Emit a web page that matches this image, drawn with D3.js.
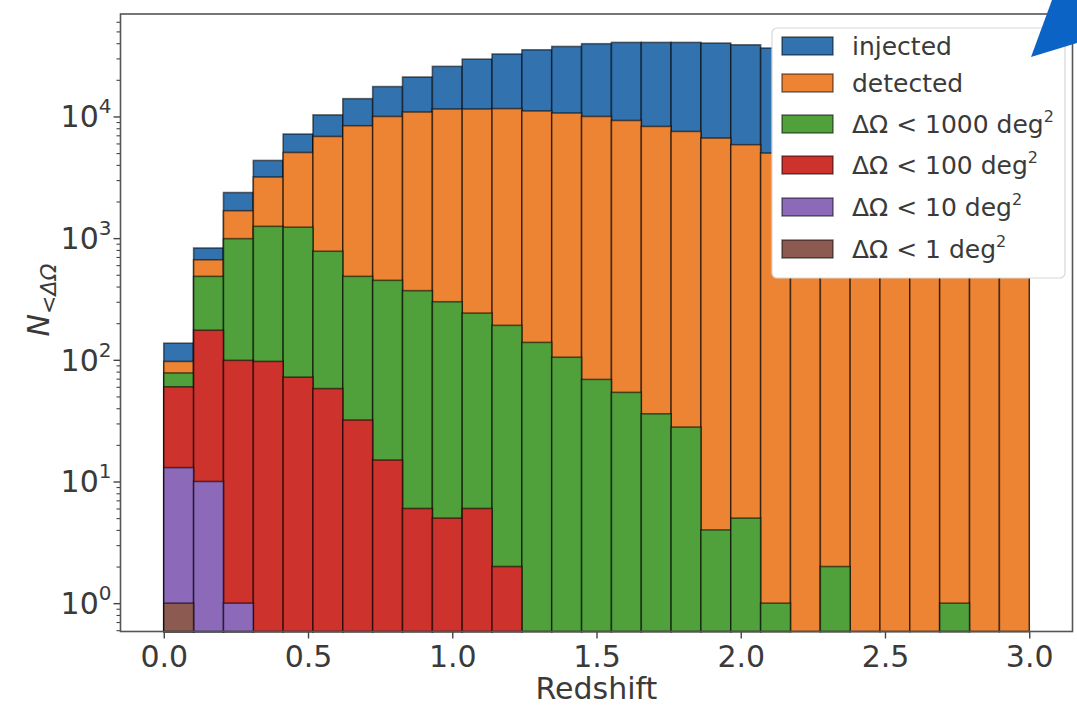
<!DOCTYPE html>
<html>
<head>
<meta charset="utf-8">
<script src="https://cdn.jsdelivr.net/npm/d3@7"></script>
<style>
  html, body { margin: 0; padding: 0; background: #fff; }
  svg { display: block; font-family: "DejaVu Sans", sans-serif; }
</style>
</head>
<body>
<svg id="chart" width="1077" height="709"></svg>
<script>
// ---------- data ----------
const binStart = 0.0;
const binEnd = 3.0;
const binCount = 29;

const injected = [137, 830, 2370, 4350, 7170, 10300, 14000, 17600, 21100, 25800, 29600, 32600, 35300, 37600, 39600, 40600, 40600, 40600, 40100, 38800, 36500, 34500, 32500, 30500, 28500, 26500, 24500, 22500, 20500];
const detected = [97, 664, 1680, 3180, 5060, 6850, 8390, 10000, 10870, 11510, 11510, 11600, 11100, 10670, 10000, 9270, 8280, 7530, 6640, 5860, 5000, 4300, 3700, 3200, 2700, 2300, 1950, 1650, 1400];
const lt1000 = [78, 485, 990, 1250, 1230, 780, 485, 450, 370, 300, 242, 192, 139, 105, 69, 54, 36, 28, 4, 5, 1, 0, 2, 0, 0, 0, 1, 0, 0];
const lt100 = [60, 175, 99, 97, 72, 58, 32, 15, 6, 5, 6, 2, 0, 0, 0, 0, 0, 0, 0, 0, 0, 0, 0, 0, 0, 0, 0, 0, 0];
const lt10 = [13, 10, 1, 0, 0, 0, 0, 0, 0, 0, 0, 0, 0, 0, 0, 0, 0, 0, 0, 0, 0, 0, 0, 0, 0, 0, 0, 0, 0];
const lt1 = [1, 0, 0, 0, 0, 0, 0, 0, 0, 0, 0, 0, 0, 0, 0, 0, 0, 0, 0, 0, 0, 0, 0, 0, 0, 0, 0, 0, 0];

const seriesNames = ["injected", "detected", "ΔΩ < 1000 deg", "ΔΩ < 100 deg", "ΔΩ < 10 deg", "ΔΩ < 1 deg"];
const seriesSup = ["", "", "2", "2", "2", "2"];
const seriesColors = ["#3273af", "#ec8434", "#50a03c", "#cd322d", "#8d69b9", "#8c5a50"];
const seriesValues = [injected, detected, lt1000, lt100, lt10, lt1];

const xTicks = [0.0, 0.5, 1.0, 1.5, 2.0, 2.5, 3.0];
const yTickExps = [0, 1, 2, 3, 4];

// ---------- layout ----------
const svg = d3.select("#chart");
const L = 120.5, R = 1072.5, T = 14, B = 631.5;
const x = d3.scaleLinear().domain([-0.15, 3.15]).range([L, R]);
const y = d3.scaleLog().domain([0.585, 69500]).range([B, T]);

const binW = (binEnd - binStart) / binCount;
const edges = d3.range(binCount + 1).map(i => binStart + i * binW);

// ---------- bars ----------
const plot = svg.append("g");
seriesValues.forEach((vals, s) => {
  plot.append("g")
    .selectAll("rect")
    .data(vals.map((v, i) => ({ v, i })).filter(d => d.v > 0))
    .join("rect")
    .attr("x", d => x(edges[d.i]))
    .attr("width", d => x(edges[d.i + 1]) - x(edges[d.i]))
    .attr("y", d => y(d.v))
    .attr("height", d => B - y(d.v))
    .attr("fill", seriesColors[s])
    .attr("stroke", "#000")
    .attr("stroke-opacity", 0.55)
    .attr("stroke-width", 1.6);
});

// ---------- axes ----------
const tickColor = "#444";
const textColor = "#3a3a3a";
const xAxis = svg.append("g")
  .attr("transform", `translate(0,${B})`)
  .call(d3.axisBottom(x).tickValues(xTicks).tickSize(7).tickPadding(7).tickFormat(d3.format(".1f")));
xAxis.select(".domain").remove();
xAxis.selectAll("line").attr("stroke", tickColor).attr("stroke-width", 1.4);
xAxis.selectAll("text").attr("font-size", 30).attr("fill", textColor)
  .attr("font-family", "DejaVu Sans");

const minorVals = [];
for (let e = -1; e <= 4; e++) for (let m = 2; m <= 9; m++) {
  const v = m * Math.pow(10, e);
  if (v > y.domain()[0] && v < y.domain()[1]) minorVals.push(v);
}
const yMinor = svg.append("g")
  .attr("transform", `translate(${L},0)`)
  .call(d3.axisLeft(y).tickValues(minorVals).tickSize(4).tickFormat(""));
yMinor.select(".domain").remove();
yMinor.selectAll("line").attr("stroke", tickColor).attr("stroke-width", 1.1);

const yMajor = svg.append("g")
  .attr("transform", `translate(${L},0)`)
  .call(d3.axisLeft(y).tickValues(yTickExps.map(e => Math.pow(10, e))).tickSize(7).tickFormat(""));
yMajor.select(".domain").remove();
yMajor.selectAll("line").attr("stroke", tickColor).attr("stroke-width", 1.4);

const yLab = svg.append("g").selectAll("text")
  .data(yTickExps)
  .join("text")
  .attr("x", L - 9)
  .attr("y", e => y(Math.pow(10, e)) + 11)
  .attr("text-anchor", "end")
  .attr("font-size", 30)
  .attr("fill", textColor);
yLab.append("tspan").text("10");
yLab.append("tspan").attr("dy", -14).attr("font-size", 20).text(e => String(e));

// spines
svg.append("rect")
  .attr("x", L).attr("y", T).attr("width", R - L).attr("height", B - T)
  .attr("fill", "none").attr("stroke", "#555").attr("stroke-width", 1.6);

// axis labels
svg.append("text")
  .attr("x", x(1.5)).attr("y", 699)
  .attr("text-anchor", "middle")
  .attr("font-size", 30).attr("fill", textColor)
  .text("Redshift");

const yl = svg.append("text")
  .attr("transform", `translate(49,300) rotate(-90)`)
  .attr("text-anchor", "middle")
  .attr("font-size", 30).attr("fill", textColor);
yl.append("tspan").attr("font-style", "italic").text("N");
yl.append("tspan").attr("font-style", "italic").attr("font-size", 22).attr("dy", 7).text("<ΔΩ");

// ---------- legend ----------
const lg = svg.append("g");
lg.append("rect")
  .attr("x", 772).attr("y", 28).attr("width", 293).attr("height", 250)
  .attr("rx", 5).attr("fill", "#fff").attr("stroke", "#d8d8d8").attr("stroke-width", 1.2);
const rowY = [46, 83, 124, 165, 207, 249];
const items = lg.selectAll("g.item")
  .data(seriesNames.map((n, i) => ({ n, i })))
  .join("g").attr("class", "item")
  .attr("transform", d => `translate(0,${rowY[d.i]})`);
items.append("rect")
  .attr("x", 782).attr("y", -9).attr("width", 51).attr("height", 18)
  .attr("fill", d => seriesColors[d.i])
  .attr("stroke", "#000").attr("stroke-opacity", 0.55).attr("stroke-width", 1.4);
const lt = items.append("text")
  .attr("x", 852).attr("y", 9)
  .attr("font-size", 25).attr("fill", textColor);
lt.append("tspan").text(d => d.n);
lt.append("tspan").attr("dy", -11).attr("font-size", 16).text(d => seriesSup[d.i]);

// ---------- corner decoration ----------
svg.append("polygon")
  .attr("points", "1031,57 1052,0 1077,0 1077,43")
  .attr("fill", "#0b63c6");
</script>
</body>
</html>
